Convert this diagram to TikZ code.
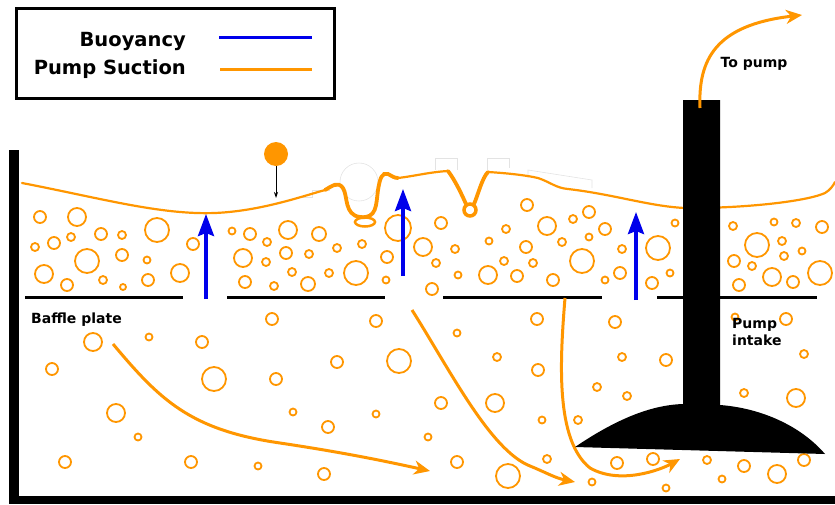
\documentclass[tikz,border=0pt]{standalone}
\usepackage{fontspec}
\setmainfont{DejaVu Sans}
\usetikzlibrary{arrows.meta}

\definecolor{foam}{RGB}{255,150,0}
\definecolor{lift}{RGB}{0,0,235}

\tikzset{
  bubble/.style={draw=foam, line width=1.8pt},
  surface/.style={draw=foam, line width=2.2pt, line cap=round},
  flow/.style={draw=foam, line width=3pt, -{Stealth[length=16pt,width=14pt,inset=5pt]}},
  buoy/.style={draw=lift, line width=3.5pt, -{Stealth[length=22pt,width=16pt,inset=3pt]}},
  baffle/.style={draw=black, line width=3pt},
  ghost/.style={draw=gray!22, line width=0.6pt},
  tag/.style={font=\bfseries\fontsize{14}{16}\selectfont, inner sep=0pt}
}

\begin{document}
\begin{tikzpicture}[x=1pt, y=-1pt]
  \useasboundingbox (0,0) rectangle (835,504);

  % legend
  \draw[line width=3pt] (16,8) rectangle (334,98);
  \node[font=\bfseries\fontsize{19.5}{22}\selectfont, anchor=base east, inner sep=0pt] (buoytxt) at (186,46) {Buoyancy};
  \node[font=\bfseries\fontsize{19.5}{22}\selectfont, anchor=base east, inner sep=0pt] (suctxt) at (186,74) {Pump Suction};
  \draw[lift, line width=3pt] (219,37) -- (312,37);
  \draw[foam, line width=3pt] (220,69) -- (312,69);

  % faint outlines above the surface
  \draw[ghost] (359,182) circle[radius=19pt];
  \draw[ghost] (300,197) -- (312,197) -- (312,190) -- (330,190);
  \draw[ghost] (435,170) -- (435,158) -- (457,158) -- (457,170);
  \draw[ghost] (487,170) -- (487,158) -- (509,158) -- (509,168);
  \draw[ghost] (528,178) -- (528,170) -- (592,180) -- (592,188);

  % bubbles
  \foreach \x/\y/\r in {
    40/217/7, 77/217/10, 35/247/5, 54/243/7, 71/237/5, 87/261/13, 101/234/7,
    122/235/5, 157/230/13, 122/255/7, 147/260/4.5, 44/274/10, 67/285/7,
    103/280/5, 123/287/4, 148/280/7, 180/273/10, 193/244/7,
    232/231/4.5, 250/234/7, 267/242/5, 288/230/10, 319/234/8, 243/258/10,
    266/262/5, 286/253/7, 309/254/5, 337/248/5, 362/244/5, 245/282/7,
    274/286/5, 308/284/8, 292/272/5, 329/273/5, 356/273/13, 387/257/7,
    386/280/4.5, 398/228/14, 423/247/10, 432/289/7,
    527/205/7, 441/223/7, 506/229/5, 547/226/10, 573/219/5, 589/212/7,
    605/229/7, 455/249/5, 489/241/4.5, 526/247/7, 562/242/5, 589/237/4.5,
    622/249/5, 436/263/5, 504/261/5, 533/263/5, 582/261/13, 488/275/10,
    458/275/4.5, 517/276/7, 553/280/7, 605/280/4.5, 620/273/7, 658/248/13,
    675/223/4.5, 670/273/4.5, 652/283/7,
    733/226/5, 774/222/4.5, 796/223/5, 822/227/7, 757/245/13, 782/241/5,
    802/251/4.5, 784/256/5, 734/261/7, 752/266/5, 772/277/10, 793/282/7,
    820/273/13, 739/285/7,
    93/342/10, 149/337/4.5, 202/342/7, 272/319/7, 52/369/7, 214/379/13,
    276/379/7, 116/413/10, 138/437/4.5, 293/412/4.5, 65/462/7, 191/462/7,
    258/466/4.5, 376/321/7, 337/362/7, 399/361/13, 328/427/7, 376/414/4.5,
    324/474/7, 457/333/4.5, 441/403/7, 428/437/4.5, 457/462/7, 508/476/13,
    537/319/7, 497/357/5, 495/403/10, 538/370/7, 542/420/4.5, 547/459/5,
    578/420/5, 615/322/7, 622/357/5, 666/360/7, 597/387/5, 627/396/5,
    735/317/4.5, 786/319/7, 804/354/5, 744/393/5, 796/398/10, 617/463/7,
    653/459/7, 592/482/4.5, 666/488/4.5, 707/460/5, 744/466/7, 722/479/4.5,
    777/474/10, 804/460/7}
    \draw[bubble] (\x,\y) circle[radius=\r pt - 1pt];

  % liquid surface
  \draw[surface] (22,183) .. controls (100,198) and (160,215) .. (215,213)
    .. controls (260,211) and (300,197) .. (325,190);
  \draw[surface, line width=3.8pt] (325,190) .. controls (332,186) and (338,181) .. (343,188)
    .. controls (348,196) and (344,215) .. (360,217)
    .. controls (377,219) and (376,205) .. (378,190)
    .. controls (380,178) and (382,172) .. (388,174)
    .. controls (392,176) and (394,178) .. (398,178);
  \draw[foam, line width=2.5pt] (365,222) ellipse[x radius=10pt, y radius=4.5pt];
  \draw[surface] (398,178) .. controls (415,176) and (430,172) .. (448,171);
  \draw[surface, line width=3.8pt] (448,171) .. controls (455,180) and (462,195) .. (466,204);
  \draw[surface, line width=3.8pt] (474,204) .. controls (478,195) and (482,178) .. (488,172);
  \draw[foam, line width=3.5pt] (470,210) circle[radius=6pt];
  \draw[surface] (488,172) .. controls (505,173) and (525,175) .. (538,178)
    .. controls (550,182) and (556,188) .. (568,189)
    .. controls (620,195) and (660,210) .. (700,208)
    .. controls (760,207) and (810,200) .. (825,193)
    .. controls (830,190) and (833,186) .. (835,182);

  % float
  \fill[foam] (276,154) circle[radius=12pt];
  \draw[line width=0.8pt, -{Stealth[length=6pt,width=4pt]}] (276,166) -- (276,198);

  % tank walls
  \draw[line width=10pt] (14,150) -- (14,504);
  \draw[line width=8pt] (9,500) -- (835,500);

  % baffle plates
  \draw[baffle] (25,297) -- (183,297);
  \draw[baffle] (227,297) -- (385,297);
  \draw[baffle] (443,297) -- (602,297);
  \draw[baffle] (657,297) -- (817,297);

  % buoyancy
  \draw[buoy] (206,299) -- (206,214);
  \draw[buoy] (403,276) -- (403,189);
  \draw[buoy] (636,300) -- (636,212);

  % suction paths
  \draw[flow] (113,344) .. controls (160,400) and (190,430) .. (280,443)
    .. controls (340,452) and (380,460) .. (430,471);
  \draw[flow] (412,310) .. controls (450,370) and (490,450) .. (530,466)
    .. controls (545,472) and (555,478) .. (575,482);
  \draw[flow] (565,298) .. controls (560,360) and (555,440) .. (590,468)
    .. controls (620,485) and (660,470) .. (680,459);

  % pump
  \fill (575,447) .. controls (615,420) and (650,405) .. (683,404) -- (683,100)
    -- (720,100) -- (720,405) .. controls (760,408) and (800,425) .. (825,454) -- cycle;
  \draw[flow, line width=3pt] (700,108) .. controls (698,60) and (715,25) .. (802,15);

  % labels
  \node[tag] (topump) at (754,64) {To pump};
  \node[tag, anchor=base west] (baffle) at (31,323) {Baffle plate};
  \node[tag, anchor=base west, align=left] (intake) at (732,345) {Pump\\[1pt]intake};
\end{tikzpicture}
\end{document}
